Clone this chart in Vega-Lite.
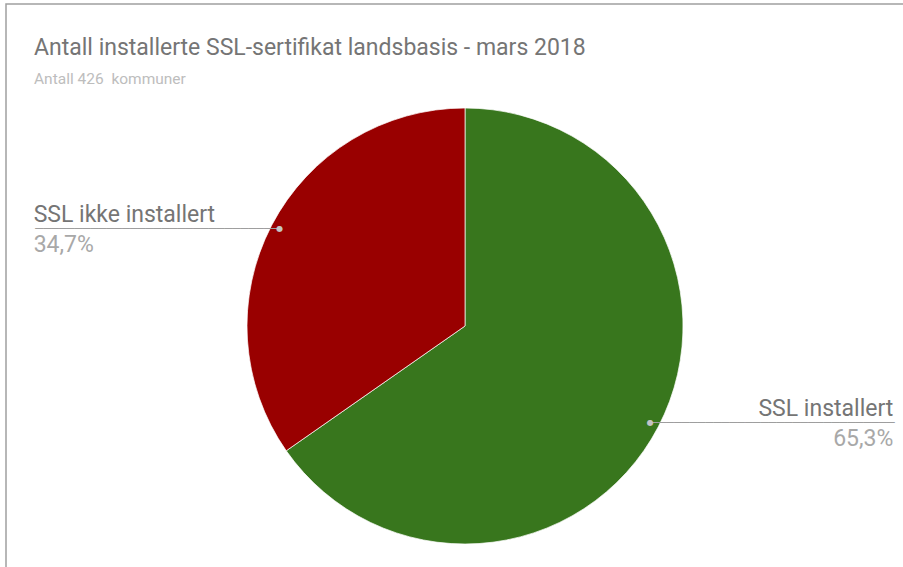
{
  "$schema": "https://vega.github.io/schema/vega-lite/v6.json",
  "width": 918,
  "height": 644,
  "autosize": {"type": "none"},
  "padding": {"left": 6, "top": 4, "right": 0, "bottom": 0},
  "background": "white",
  "view": {"stroke": "#a0a0a0", "strokeWidth": 1.5},
  "title": {
    "text": "Antall installerte SSL-sertifikat landsbasis - mars 2018",
    "subtitle": "Antall 426\u00a0 kommuner",
    "anchor": "start",
    "dx": 28,
    "offset": -83,
    "font": "Roboto",
    "fontSize": 23,
    "fontWeight": "normal",
    "color": "#757575",
    "subtitleFont": "Roboto",
    "subtitleFontSize": 15.5,
    "subtitleColor": "#bdbdbd",
    "subtitlePadding": 12
  },
  "data": {
    "values": [
      {"kategori": "SSL installert", "andel": 0.653},
      {"kategori": "SSL ikke installert", "andel": 0.347}
    ]
  },
  "encoding": {
    "theta": {"field": "andel", "type": "quantitative", "stack": true},
    "color": {
      "field": "kategori",
      "type": "nominal",
      "scale": {"domain": ["SSL installert", "SSL ikke installert"], "range": ["#38761d", "#990000"]},
      "legend": null
    },
    "order": {"field": "andel", "type": "quantitative", "sort": "descending"}
  },
  "layer": [
    {"mark": {"type": "arc", "radius": 218, "stroke": "white", "strokeWidth": 0.7}},
    {
      "mark": {
        "type": "text",
        "text": "───────────────────────────────",
        "font": "DejaVu Sans Mono",
        "fontSize": 13.1,
        "radius": 209,
        "baseline": "middle",
        "align": {"expr": "datum.kategori == 'SSL installert' ? 'left' : 'right'"}
      },
      "encoding": {"color": {"value": "#9e9e9e"}, "detail": {"field": "kategori"}}
    },
    {
      "mark": {
        "type": "text",
        "text": "●",
        "font": "DejaVu Sans",
        "fontSize": 8,
        "radius": 209,
        "baseline": "middle",
        "align": "center"
      },
      "encoding": {"color": {"value": "#c4c4c4"}, "detail": {"field": "kategori"}}
    },
    {
      "mark": {
        "type": "text",
        "font": "Roboto",
        "fontSize": 23,
        "radius": 209,
        "baseline": "alphabetic",
        "dy": -7,
        "dx": {"expr": "datum.kategori == 'SSL installert' ? 243 : -246"},
        "align": {"expr": "datum.kategori == 'SSL installert' ? 'right' : 'left'"}
      },
      "encoding": {
        "text": {"field": "kategori"},
        "color": {"value": "#757575"},
        "detail": {"field": "kategori"}
      }
    },
    {
      "mark": {
        "type": "text",
        "font": "Roboto",
        "fontSize": 23,
        "radius": 209,
        "baseline": "alphabetic",
        "dy": 23,
        "dx": {"expr": "datum.kategori == 'SSL installert' ? 243 : -246"},
        "align": {"expr": "datum.kategori == 'SSL installert' ? 'right' : 'left'"}
      },
      "encoding": {
        "text": {"field": "andel", "type": "quantitative", "format": ".1%"},
        "color": {"value": "#a8a8a8"},
        "detail": {"field": "kategori"}
      }
    }
  ],
  "config": {
    "view": {"stroke": "#a0a0a0", "strokeWidth": 1.5},
    "locale": {"number": {"decimal": ",", "thousands": " ", "grouping": [3], "currency": ["", " kr"]}}
  }
}
